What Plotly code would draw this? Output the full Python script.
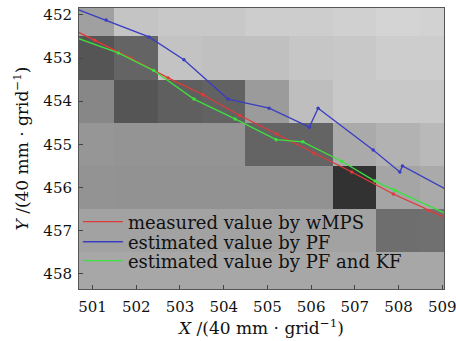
import plotly.graph_objects as go

# grid cells
cell_x = [501, 502, 503, 504, 505, 506, 507, 508, 509]
cell_y = [452, 453, 454, 455, 456, 457, 458]
cell_gray = [
    [160, 196, 200, 200, 205, 205, 208, 212, 210],
    [85, 100, 195, 192, 192, 198, 200, 205, 205],
    [135, 85, 95, 98, 155, 190, 200, 200, 200],
    [150, 148, 148, 148, 100, 100, 170, 178, 185],
    [147, 146, 146, 146, 146, 146, 50, 165, 170],
    [162, 162, 162, 162, 162, 162, 162, 110, 112],
    [167, 167, 167, 167, 167, 167, 167, 167, 167],
]

# measured value by wMPS
wmps_x = [500.6, 501.05, 501.87, 502.73, 503.53, 504.37, 505.21, 506.07, 506.93, 507.88, 508.68, 509.1]
wmps_y = [452.36, 452.59, 453.0, 453.46, 453.85, 454.33, 454.76, 455.21, 455.64, 456.15, 456.53, 456.71]

# estimated value by PF
pf_x = [500.6, 501.31, 502.29, 503.09, 504.10, 505.04, 505.96, 506.16, 507.42, 508.03, 508.09, 509.1]
pf_y = [451.85, 452.12, 452.51, 453.04, 453.95, 454.16, 454.60, 454.16, 455.13, 455.64, 455.50, 456.05]

# estimated value by PF and KF
kf_x = [500.6, 501.59, 502.40, 503.32, 504.26, 505.20, 505.81, 506.70, 507.46, 507.92, 509.1]
kf_y = [452.52, 452.88, 453.29, 453.95, 454.41, 454.89, 454.94, 455.39, 455.85, 456.06, 456.61]

series_names = ["measured value by wMPS", "estimated value by PF", "estimated value by PF and KF"]
series_colors = ["#e03a3a", "#3a3ec0", "#3ee03e"]

x_ticks = [501, 502, 503, 504, 505, 506, 507, 508, 509]
y_ticks = [452, 453, 454, 455, 456, 457, 458]

FONT = "DejaVu Serif"

fig = go.Figure()
fig.add_trace(go.Heatmap(
    x=cell_x, y=cell_y, z=cell_gray,
    colorscale=[[0, "rgb(0,0,0)"], [1, "rgb(255,255,255)"]],
    zmin=0, zmax=255, showscale=False, hoverinfo="skip", showlegend=False,
))

legend_ids = ["legend", "legend2", "legend3"]
for (xs, ys), name, col, lg in zip([(wmps_x, wmps_y), (pf_x, pf_y), (kf_x, kf_y)],
                                   series_names, series_colors, legend_ids):
    fig.add_trace(go.Scatter(x=xs, y=ys, mode="lines", name=name, legend=lg,
                             line=dict(color=col, width=1.3)))
    fig.add_trace(go.Scatter(x=xs[1:-1], y=ys[1:-1], mode="markers", name=name,
                             showlegend=False, marker=dict(size=3.5, color=col)))

axis_common = dict(
    showgrid=False, zeroline=False, ticks="inside", ticklen=4, tickwidth=1,
    tickcolor="#444", showline=True, linecolor="#555", linewidth=1, mirror=True,
    automargin=False, ticklabeloverflow="allow",
    tickfont=dict(family=FONT, size=15, color="#111"),
)

leg_common = dict(xanchor="left", yanchor="middle", bgcolor="rgba(0,0,0,0)",
                  borderwidth=0, itemwidth=40,
                  font=dict(family=FONT, size=18, color="#111"))

fig.update_layout(
    width=456, height=341,
    margin=dict(l=79, r=12, t=8, b=52),
    paper_bgcolor="white", plot_bgcolor="white",
    font=dict(family=FONT, color="#111"),
    xaxis=dict(range=[500.69, 509.04], tickvals=x_ticks, ticklabelstandoff=4,
               title=dict(text="<i>X</i> /(40 mm · grid<sup>−1</sup>)",
                          font=dict(family=FONT, size=17), standoff=2),
               **axis_common),
    yaxis=dict(range=[458.35, 451.84], tickvals=y_ticks, ticklabelstandoff=3,
               title=dict(text="<i>Y</i> /(40 mm · grid<sup>−1</sup>)",
                          font=dict(family=FONT, size=17), standoff=10),
               **axis_common),
    legend=dict(x=-0.003, y=0.2384, **leg_common),
    legend2=dict(x=-0.003, y=0.167, **leg_common),
    legend3=dict(x=-0.003, y=0.0996, **leg_common),
)

fig.write_html("out.html", config={"displayModeBar": False},
               post_script="document.body.style.margin='0';document.body.style.padding='0';")
